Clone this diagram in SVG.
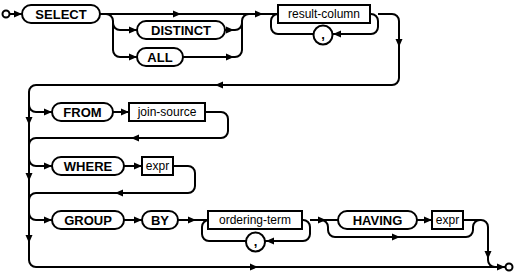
<svg xmlns="http://www.w3.org/2000/svg" xmlns:xlink="http://www.w3.org/1999/xlink" width="516" height="274" viewBox="0 0 516 274">
<style>
.ln{fill:none;stroke:#000;stroke-width:2}
.t{fill:#fff;stroke:#000;stroke-width:2}
.nt{fill:#fff;stroke:#000;stroke-width:2}
.kw{font-family:"Liberation Sans",Arial,sans-serif;font-weight:bold;font-size:13px;text-anchor:middle;fill:#000}
.nm{font-family:"Liberation Sans",Arial,sans-serif;font-size:12px;text-anchor:middle;fill:#000}
.ah{fill:#000}
</style>
<defs>
<path id="a" d="M0,0 L-8,-3.5 L-8,3.5 Z"/>
</defs>
<g id="connectors">
<circle cx="6" cy="14" r="3.5" class="t"/>
<circle cx="509" cy="267" r="3.5" class="t"/>
<path class="ln" d="M9.5,14 H22"/>
<path class="ln" d="M100,14 H278"/>
<path class="ln" d="M106,14 a7,7 0 0 1 7,7 V50 a7,7 0 0 0 7,7 H137"/>
<path class="ln" d="M113,23 a7,7 0 0 0 7,7 H137"/>
<path class="ln" d="M225,30 H235 a7,7 0 0 0 7,-7 V21 a7,7 0 0 1 7,-7"/>
<path class="ln" d="M183,57 H235 a7,7 0 0 0 7,-7 V23"/>
<path class="ln" d="M370,14 H371 a7,7 0 0 1 7,7 V27 a7,7 0 0 1 -7,7 H333"/>
<path class="ln" d="M313,34 H278 a7,7 0 0 1 -7,-7 V21 a7,7 0 0 1 7,-7"/>
<path class="ln" d="M378,14 H392 a7,7 0 0 1 7,7 V78 a7,7 0 0 1 -7,7 H36 a7,7 0 0 0 -7,7 V260 a7,7 0 0 0 7,7 H505"/>
<path class="ln" d="M29,105 a7,7 0 0 0 7,7 H52"/>
<path class="ln" d="M113,112 H129"/>
<path class="ln" d="M205,112 H221 a7,7 0 0 1 7,7 V131 a7,7 0 0 1 -7,7 H36 a7,7 0 0 0 -7,7"/>
<path class="ln" d="M29,159 a7,7 0 0 0 7,7 H52"/>
<path class="ln" d="M124,166 H142"/>
<path class="ln" d="M173,166 H188 a7,7 0 0 1 7,7 V186 a7,7 0 0 1 -7,7 H36 a7,7 0 0 0 -7,7"/>
<path class="ln" d="M29,213 a7,7 0 0 0 7,7 H52"/>
<path class="ln" d="M124,220 H142"/>
<path class="ln" d="M178,220 H208"/>
<path class="ln" d="M302,220 H303 a7,7 0 0 1 7,7 V234 a7,7 0 0 1 -7,7 H265"/>
<path class="ln" d="M246,241 H209 a7,7 0 0 1 -7,-7 V227 a7,7 0 0 1 7,-7"/>
<path class="ln" d="M310,220 H338"/>
<path class="ln" d="M321,220 a7,7 0 0 1 7,7 V230 a7,7 0 0 0 7,7 H466 a7,7 0 0 0 7,-7 V227 a7,7 0 0 1 7,-7"/>
<path class="ln" d="M417,220 H432"/>
<path class="ln" d="M463,220 H481 a7,7 0 0 1 7,7 V260 a7,7 0 0 0 7,7 H505"/>
<use xlink:href="#a" class="ah" transform="translate(22,14)"/>
<use xlink:href="#a" class="ah" transform="translate(181,14)"/>
<use xlink:href="#a" class="ah" transform="translate(263,14)"/>
<use xlink:href="#a" class="ah" transform="translate(137,30)"/>
<use xlink:href="#a" class="ah" transform="translate(137,57)"/>
<use xlink:href="#a" class="ah" transform="translate(234,30)"/>
<use xlink:href="#a" class="ah" transform="translate(234,57)"/>
<use xlink:href="#a" class="ah" transform="translate(333,34) rotate(180)"/>
<use xlink:href="#a" class="ah" transform="translate(399,47) rotate(90)"/>
<use xlink:href="#a" class="ah" transform="translate(215,85) rotate(180)"/>
<use xlink:href="#a" class="ah" transform="translate(29,125) rotate(90)"/>
<use xlink:href="#a" class="ah" transform="translate(29,181) rotate(90)"/>
<use xlink:href="#a" class="ah" transform="translate(29,243) rotate(90)"/>
<use xlink:href="#a" class="ah" transform="translate(52,112)"/>
<use xlink:href="#a" class="ah" transform="translate(129,112)"/>
<use xlink:href="#a" class="ah" transform="translate(131,138) rotate(180)"/>
<use xlink:href="#a" class="ah" transform="translate(52,166)"/>
<use xlink:href="#a" class="ah" transform="translate(142,166)"/>
<use xlink:href="#a" class="ah" transform="translate(115,193) rotate(180)"/>
<use xlink:href="#a" class="ah" transform="translate(52,220)"/>
<use xlink:href="#a" class="ah" transform="translate(142,220)"/>
<use xlink:href="#a" class="ah" transform="translate(196,220)"/>
<use xlink:href="#a" class="ah" transform="translate(266,241) rotate(180)"/>
<use xlink:href="#a" class="ah" transform="translate(326,220)"/>
<use xlink:href="#a" class="ah" transform="translate(400,237)"/>
<use xlink:href="#a" class="ah" transform="translate(432,220)"/>
<use xlink:href="#a" class="ah" transform="translate(488,259) rotate(90)"/>
<use xlink:href="#a" class="ah" transform="translate(258,267)"/>
<use xlink:href="#a" class="ah" transform="translate(505,267)"/>
</g>
<g id="n-select"><rect class="t" x="22" y="5" width="78" height="18" rx="9"/><text class="kw" x="61" y="18.6">SELECT</text></g>
<g id="n-distinct"><rect class="t" x="137" y="21" width="88" height="18" rx="9"/><text class="kw" x="181" y="34.6">DISTINCT</text></g>
<g id="n-all"><rect class="t" x="137" y="48" width="46" height="18" rx="9"/><text class="kw" x="160" y="61.6">ALL</text></g>
<g id="n-result-column"><rect class="nt" x="278" y="5" width="92" height="18"/><text class="nm" x="324" y="18.3">result-column</text></g>
<g id="n-comma1"><circle class="t" cx="323" cy="35" r="9.5"/><text class="kw" x="323" y="39">,</text></g>
<g id="n-from"><rect class="t" x="52" y="103" width="61" height="18" rx="9"/><text class="kw" x="82.5" y="116.6">FROM</text></g>
<g id="n-join-source"><rect class="nt" x="129" y="103" width="76" height="18"/><text class="nm" x="167" y="116.3">join-source</text></g>
<g id="n-where"><rect class="t" x="52" y="157" width="72" height="18" rx="9"/><text class="kw" x="88" y="170.6">WHERE</text></g>
<g id="n-expr1"><rect class="nt" x="142" y="157" width="31" height="18"/><text class="nm" x="157.5" y="170.3">expr</text></g>
<g id="n-group"><rect class="t" x="52" y="211" width="72" height="18" rx="9"/><text class="kw" x="88" y="224.6">GROUP</text></g>
<g id="n-by"><rect class="t" x="142" y="211" width="36" height="18" rx="9"/><text class="kw" x="160" y="224.6">BY</text></g>
<g id="n-ordering-term"><rect class="nt" x="208" y="211" width="94" height="18"/><text class="nm" x="255" y="224.3">ordering-term</text></g>
<g id="n-comma2"><circle class="t" cx="255.5" cy="242" r="9.5"/><text class="kw" x="255.5" y="246">,</text></g>
<g id="n-having"><rect class="t" x="338" y="211" width="79" height="18" rx="9"/><text class="kw" x="377.5" y="224.6">HAVING</text></g>
<g id="n-expr2"><rect class="nt" x="432" y="211" width="31" height="18"/><text class="nm" x="447.5" y="224.3">expr</text></g>
</svg>
